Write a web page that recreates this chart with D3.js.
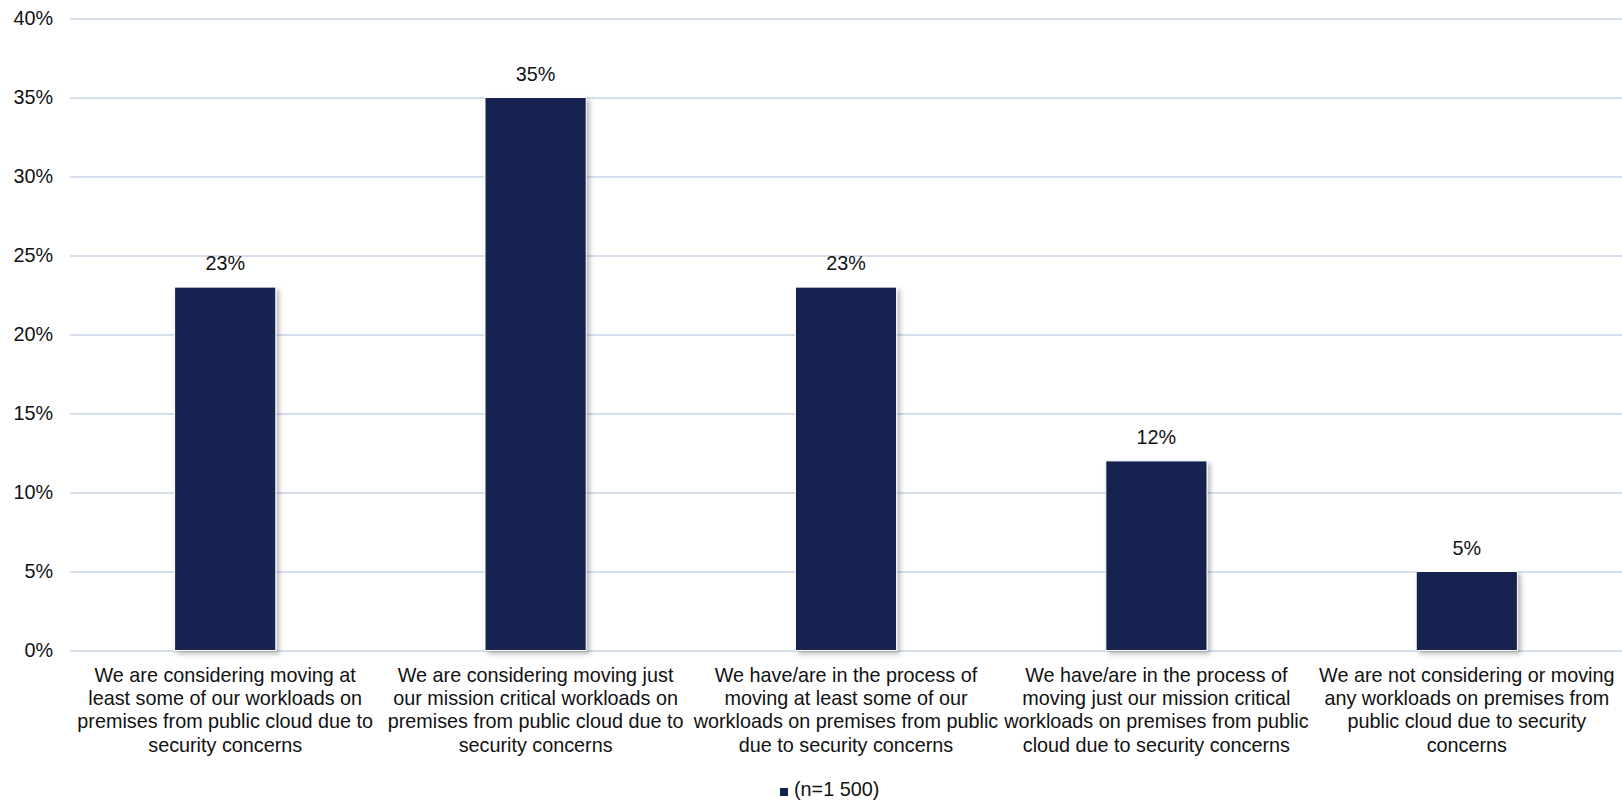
<!DOCTYPE html>
<html>
<head>
<meta charset="utf-8">
<script src="https://cdn.jsdelivr.net/npm/d3@7"></script>
<style>
  html, body { margin: 0; padding: 0; background: #fff; }
  svg { display: block; font-family: "Liberation Sans", Arial, sans-serif; }
</style>
</head>
<body>
<svg id="chart" width="1622" height="802"></svg>
<script>
const categories = [
  ["We are considering moving at", "least some of our workloads on", "premises from public cloud due to", "security concerns"],
  ["We are considering moving just", "our mission critical workloads on", "premises from public cloud due to", "security concerns"],
  ["We have/are in the process of", "moving at least some of our", "workloads on premises from public", "due to security concerns"],
  ["We have/are in the process of", "moving just our mission critical", "workloads on premises from public", "cloud due to security concerns"],
  ["We are not considering or moving", "any workloads on premises from", "public cloud due to security", "concerns"]
];
const values = [0.23, 0.35, 0.23, 0.12, 0.05];
const yTicks = [0, 0.05, 0.10, 0.15, 0.20, 0.25, 0.30, 0.35, 0.40];
const seriesName = "(n=1 500)";

const svg = d3.select("#chart");
const margin = { left: 70, right: 0, top: 18.5, bottom: 151.5 };
const W = 1622, H = 802;
const FS = "19.8px";

const x = d3.scaleBand()
  .domain(d3.range(categories.length))
  .range([margin.left, W - margin.right])
  .paddingInner(0.674).paddingOuter(0.337);
const y = d3.scaleLinear().domain([0, 0.40]).range([H - margin.bottom, margin.top]);

const defs = svg.append("defs");
const f = defs.append("filter").attr("id", "shadow").attr("x", "-20%").attr("y", "-20%").attr("width", "150%").attr("height", "150%");
f.append("feDropShadow").attr("dx", 3).attr("dy", 3).attr("stdDeviation", 2.5).attr("flood-color", "#000").attr("flood-opacity", 0.28);

// gridlines
const yAxis = d3.axisLeft(y).tickValues(yTicks).tickFormat(d3.format(".0%")).tickSize(-(W - margin.left - margin.right)).tickPadding(17);
const gy = svg.append("g").attr("transform", `translate(${margin.left},0)`).call(yAxis);
gy.select(".domain").remove();
gy.selectAll(".tick line").attr("stroke", "#c7d4e4").attr("stroke-width", 1.6);
gy.selectAll(".tick text").attr("fill", "#111").attr("font-size", FS)
  .attr("font-family", "Liberation Sans, Arial, sans-serif");

// bars
svg.append("g").selectAll("rect").data(values).join("rect")
  .attr("x", (d, i) => x(i))
  .attr("y", d => y(d))
  .attr("width", x.bandwidth())
  .attr("height", d => y(0) - y(d))
  .attr("fill", "#12214f")
  .attr("stroke", "#ffffff").attr("stroke-width", 1)
  .attr("filter", "url(#shadow)");

// data labels
svg.append("g").selectAll("text").data(values).join("text")
  .attr("x", (d, i) => x(i) + x.bandwidth() / 2)
  .attr("y", d => y(d) - 17)
  .attr("text-anchor", "middle")
  .attr("font-size", FS).attr("fill", "#111")
  .text(d => d3.format(".0%")(d));

// x labels
const xl = svg.append("g").selectAll("text").data(categories).join("text")
  .attr("x", (d, i) => x(i) + x.bandwidth() / 2)
  .attr("y", 681.7)
  .attr("text-anchor", "middle")
  .attr("font-size", FS).attr("fill", "#111");
xl.selectAll("tspan").data((d, i) => d.map(t => ({ t, i }))).join("tspan")
  .attr("x", d => x(d.i) + x.bandwidth() / 2)
  .attr("dy", (d, j) => j === 0 ? 0 : 23.3)
  .text(d => d.t);

// legend
const lg = svg.append("g").attr("transform", "translate(780,788)");
lg.append("rect").attr("width", 8).attr("height", 8).attr("fill", "#12214f");
lg.append("text").attr("x", 14).attr("y", 8).attr("font-size", FS).attr("fill", "#111").text(seriesName);
</script>
</body>
</html>
